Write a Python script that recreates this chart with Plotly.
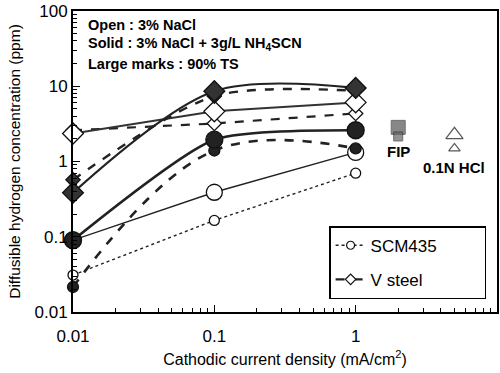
import plotly.graph_objects as go
import math

# ---- data ----
current = [0.01, 0.1, 1]
scm_open_large = [0.09, 0.39, 1.32]
scm_open_small = [0.031, 0.165, 0.70]
scm_solid_large = [0.09, 1.95, 2.6]
scm_solid_small = [0.0215, 1.40, 1.49]
v_open_large = [2.35, 4.64, 6.1]
v_open_small = [2.6, 3.2, 4.35]
v_solid_large = [0.385, 8.6, 9.5]
v_solid_small = [0.57, 7.4, 8.7]

fip_x = [2, 2]
fip_y = [2.84, 2.15]
hcl_x = [5, 5]
hcl_y = [2.26, 1.49]

x_ticks = [0.01, 0.1, 1]
x_ticktext = ["0.01", "0.1", "1"]
y_ticks = [0.01, 0.1, 1, 10, 100]
y_ticktext = ["0.01", "0.1", "1", "10", "100"]

FONT = "Liberation Sans, Arial, sans-serif"
DARK = "#222222"
PAD = "&nbsp;" * 9

def minor_vals(decades):
    return [m * 10 ** d for d in decades for m in range(2, 10)]

fig = go.Figure()

def add(y, dash, width, symbol, size, fill, shape="linear", color=DARK, smoothing=0.8):
    fig.add_trace(go.Scatter(
        x=current, y=y, mode="lines+markers", cliponaxis=False,
        line=dict(color=color, width=width, dash=dash, shape=shape, smoothing=smoothing),
        marker=dict(symbol=symbol, size=size, color=fill,
                    line=dict(color="#111111", width=1.3)),
        showlegend=False, hoverinfo="skip"))

add(scm_open_small, "dot", 1.4, "circle", 10, "white")
add(scm_open_large, "solid", 1.4, "circle", 16, "white")
add(v_open_small, "dash", 2.2, "diamond", 11, "white")
add(v_open_large, "solid", 2.0, "diamond", 16, "white", color="#333333")
add(scm_solid_small, "dash", 2.6, "circle", 11, DARK, shape="spline", smoothing=1.1)
add(scm_solid_large, "solid", 2.6, "circle", 17, DARK, shape="spline", smoothing=0.6)
add(v_solid_small, "dash", 2.4, "diamond", 11, "#333333", shape="spline", smoothing=0.8)
add(v_solid_large, "solid", 2.2, "diamond", 16, "#333333", shape="spline", smoothing=0.9)

fig.add_trace(go.Scatter(x=fip_x, y=fip_y, mode="markers",
                         marker=dict(symbol="square", size=[14, 9], color=["#555555", "#666666"],
                                     line=dict(color="#333333", width=1)),
                         showlegend=False, hoverinfo="skip"))
fig.add_trace(go.Scatter(x=hcl_x, y=hcl_y, mode="markers",
                         marker=dict(symbol="triangle-up", size=[15, 10], color="white",
                                     line=dict(color="#111111", width=1.2)),
                         showlegend=False, hoverinfo="skip"))

fig.add_trace(go.Scatter(x=[None], y=[None], mode="lines+markers", name="SCM435" + PAD,
                         line=dict(color=DARK, width=1.4, dash="dot"),
                         marker=dict(symbol="circle", size=8, color="white",
                                     line=dict(color="#111111", width=1.2)),
                         legendgroup="a"))
fig.add_trace(go.Scatter(x=[None], y=[None], mode="lines+markers", name="V steel",
                         line=dict(color=DARK, width=2.4, dash="dash"),
                         marker=dict(symbol="diamond", size=8, color="white",
                                     line=dict(color="#111111", width=1.2)),
                         legendgroup="b"))

axis_common = dict(type="log", showline=True, linecolor="black", linewidth=2, mirror=True,
                   ticks="inside", ticklen=7, tickwidth=1.3, tickcolor="black",
                   showgrid=False, zeroline=False, automargin=False,
                   tickfont=dict(family=FONT, size=17, color="black"))

fig.update_xaxes(range=[-2, 1], tickvals=x_ticks, ticktext=x_ticktext, ticklabelstandoff=8,
                 minor=dict(ticks="inside", ticklen=4, tickwidth=1, tickcolor="black",
                            showgrid=False, tickmode="array", tickvals=minor_vals([-2, -1, 0])),
                 title=dict(text="Cathodic current density (mA/cm<sup>2</sup>)",
                            font=dict(family=FONT, size=16, color="black"), standoff=8),
                 **axis_common)
fig.update_yaxes(range=[-2, 2], tickvals=y_ticks, ticktext=y_ticktext,
                 minor=dict(ticks="inside", ticklen=4, tickwidth=1, tickcolor="black",
                            showgrid=False, tickmode="array", tickvals=minor_vals([-2, -1, 0, 1])),
                 title=dict(text="Diffusible hydrogen concentration (ppm)",
                            font=dict(family=FONT, size=15.5, color="black"), standoff=10),
                 **axis_common)

texts = ["Open : 3% NaCl",
         "Solid : 3% NaCl + 3g/L NH<sub>4</sub>SCN",
         "Large marks : 90% TS"]
for i, t in enumerate(texts):
    fig.add_annotation(text="<b>" + t + "</b>", xref="x domain", yref="y domain",
                       x=0.03, y=0.955 - i * 0.066, xanchor="left", yanchor="middle",
                       showarrow=False, font=dict(family=FONT, size=14.5, color="black"))

fig.add_annotation(text="<b>FIP</b>", x=math.log10(2), y=0.133, showarrow=False,
                   font=dict(family=FONT, size=15, color="black"))
fig.add_annotation(text="<b>0.1N HCl</b>", x=math.log10(5), y=-0.08, showarrow=False,
                   font=dict(family=FONT, size=15, color="black"))

fig.update_layout(
    width=500, height=373, autosize=False,
    margin=dict(l=73, r=3, t=11, b=61),
    plot_bgcolor="white", paper_bgcolor="white",
    legend=dict(x=0.604, y=0.285, xanchor="left", yanchor="top",
                bordercolor="black", borderwidth=1.5, bgcolor="white",
                font=dict(family=FONT, size=17, color="black"),
                tracegroupgap=9, traceorder="grouped"),
)

fig.write_html("out.html", config={"displayModeBar": False},
               post_script="document.body.style.margin='0';")
